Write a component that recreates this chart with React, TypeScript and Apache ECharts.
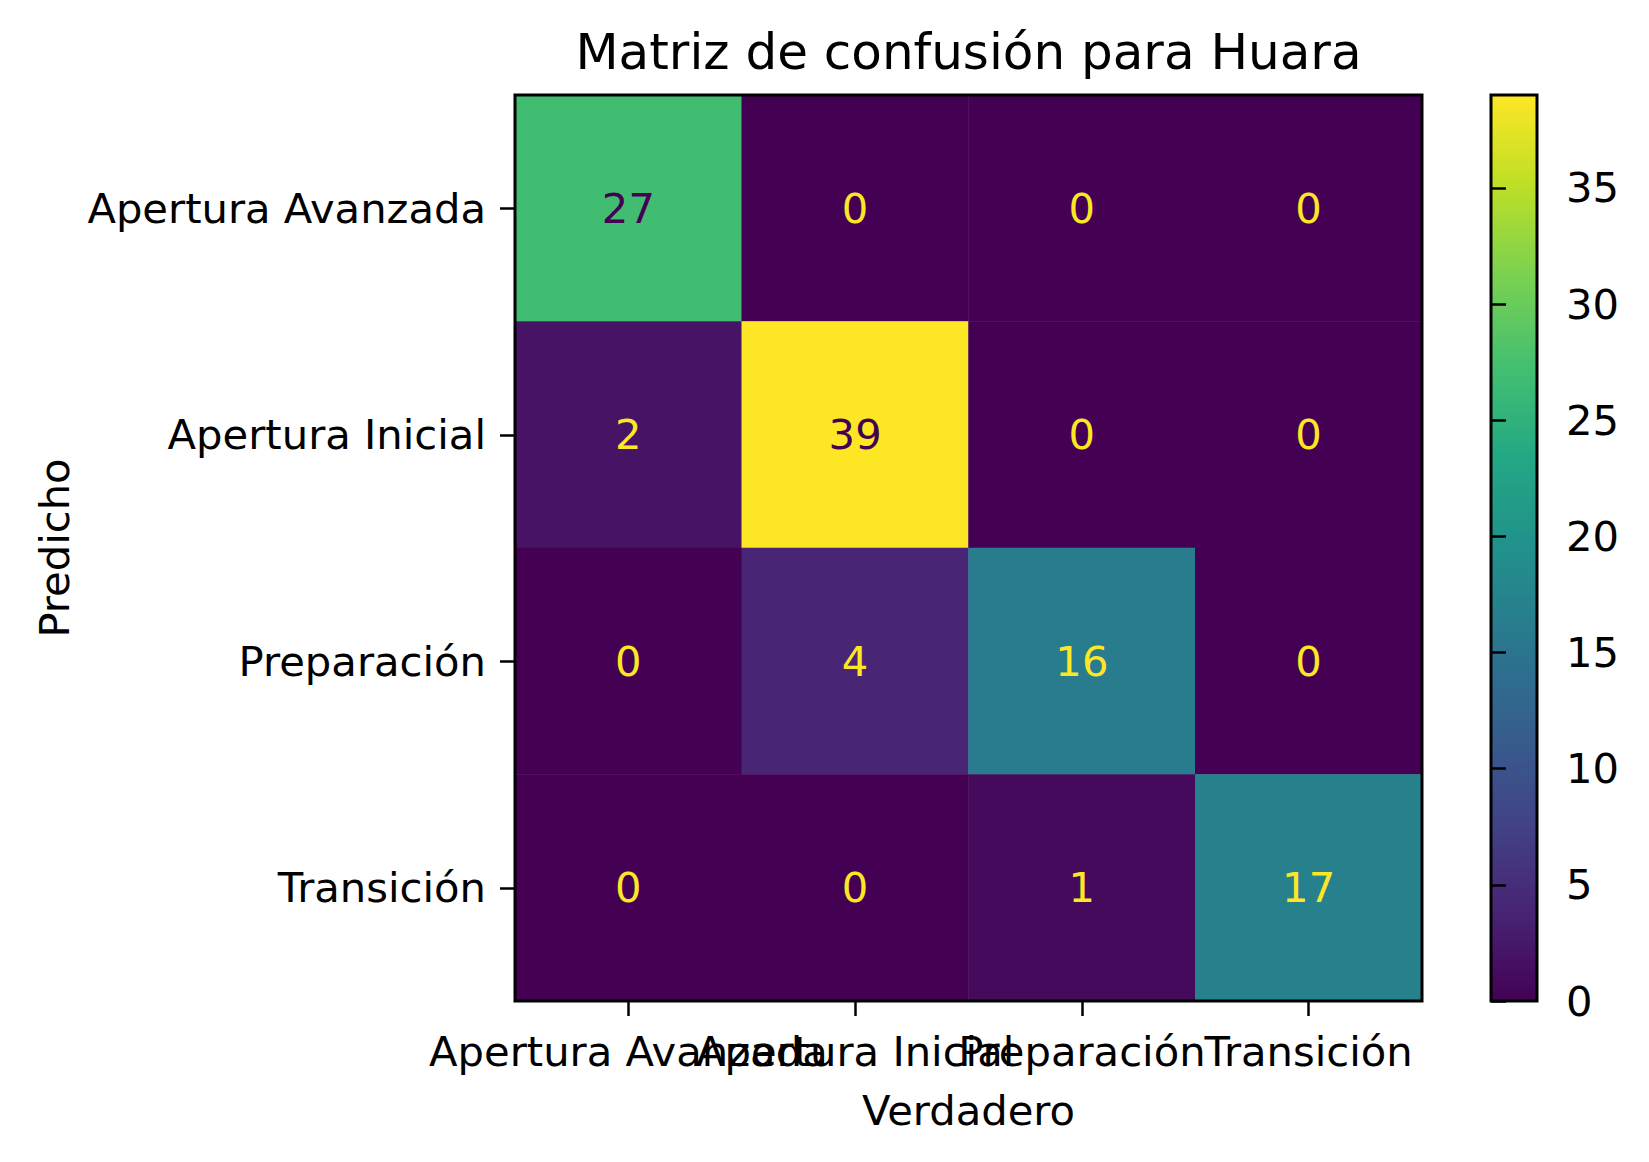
import React, { useEffect, useRef } from "react";
import * as echarts from "echarts";

const trueLabels = ["Apertura Avanzada", "Apertura Inicial", "Preparación", "Transición"];
const predLabels = ["Apertura Avanzada", "Apertura Inicial", "Preparación", "Transición"];
// rows = predicted (top to bottom), cols = true (left to right)
const rowAperturaAvanzada = [27, 0, 0, 0];
const rowAperturaInicial = [2, 39, 0, 0];
const rowPreparacion = [0, 4, 16, 0];
const rowTransicion = [0, 0, 1, 17];
const matrixRows = [rowAperturaAvanzada, rowAperturaInicial, rowPreparacion, rowTransicion];
const colorMin = 0;
const colorMax = 39;
const colorbarTicks = [0, 5, 10, 15, 20, 25, 30, 35];

const viridis = [
  "#440154", "#482475", "#414487", "#355f8d", "#2a788e",
  "#21918c", "#22a884", "#44bf70", "#7ad151", "#bddf26", "#fde725",
];

const FONT = "DejaVu Sans";
const FS = 41.7;

export default function App() {
  const ref = useRef<HTMLDivElement>(null);
  useEffect(() => {
    if (!ref.current) return;
    const chart = echarts.init(ref.current, null, { renderer: "svg" });
    const threshold = (colorMin + colorMax) / 2;
    const data: any[] = [];
    matrixRows.forEach((row, r) => {
      row.forEach((v, c) => {
        data.push({
          value: [c, r, v],
          label: { color: v > threshold ? viridis[0] : viridis[viridis.length - 1] },
        });
      });
    });
    const plot = { left: 515, top: 95, width: 907, height: 906 };
    const cbar = { left: 1491, top: 95, width: 46, height: 906 };
    chart.setOption({
      animation: false,
      backgroundColor: "#ffffff",
      textStyle: { fontFamily: FONT },
      title: {
        text: "Matriz de confusión para Huara",
        left: plot.left + plot.width / 2,
        textAlign: "center",
        top: 27,
        padding: 0,
        textStyle: { fontFamily: FONT, fontSize: 50, fontWeight: "normal", color: "#000" },
      },
      grid: [
        { ...plot, show: true, borderColor: "#000", borderWidth: 3, backgroundColor: "transparent", z: 10 },
        { ...cbar, show: true, borderColor: "#000", borderWidth: 3, backgroundColor: "transparent", z: 10 },
      ],
      xAxis: [
        {
          gridIndex: 0,
          type: "category",
          data: trueLabels,
          position: "bottom",
          name: "Verdadero",
          nameLocation: "middle",
          nameGap: 88,
          nameTextStyle: { fontFamily: FONT, fontSize: FS, color: "#000" },
          axisLine: { show: false },
          axisTick: { show: true, alignWithLabel: true, length: 15, lineStyle: { color: "#000", width: 2.5 } },
          axisLabel: { interval: 0, fontFamily: FONT, fontSize: FS, color: "#000", margin: 29, hideOverlap: false },
          splitLine: { show: false },
          z: 10,
        },
        {
          gridIndex: 1,
          type: "value",
          min: 0,
          max: 1,
          show: false,
        },
      ],
      yAxis: [
        {
          gridIndex: 0,
          type: "category",
          data: predLabels,
          inverse: true,
          name: "Predicho",
          nameLocation: "middle",
          nameGap: 440,
          nameTextStyle: { fontFamily: FONT, fontSize: FS, color: "#000" },
          axisLine: { show: false },
          axisTick: { show: true, alignWithLabel: true, length: 15, lineStyle: { color: "#000", width: 2.5 } },
          axisLabel: { interval: 0, fontFamily: FONT, fontSize: FS, color: "#000", margin: 29 },
          splitLine: { show: false },
          z: 10,
        },
        {
          gridIndex: 1,
          type: "value",
          min: colorMin,
          max: colorMax,
          position: "right",
          axisLine: { show: false },
          axisTick: { show: true, length: 15, customValues: colorbarTicks, lineStyle: { color: "#000", width: 2.5 } },
          axisLabel: { customValues: colorbarTicks, fontFamily: FONT, fontSize: FS, color: "#000", margin: 29 },
          splitLine: { show: false },
          z: 10,
        },
      ],
      visualMap: {
        type: "continuous",
        min: colorMin,
        max: colorMax,
        calculable: false,
        orient: "vertical",
        left: cbar.left,
        top: cbar.top,
        itemWidth: cbar.width,
        itemHeight: cbar.height,
        padding: 0,
        text: null,
        hoverLink: false,
        seriesIndex: 0,
        inRange: { color: viridis },
        z: 1,
      },
      series: [
        {
          type: "heatmap",
          xAxisIndex: 0,
          yAxisIndex: 0,
          data,
          itemStyle: { borderWidth: 0 },
          label: { show: true, fontFamily: FONT, fontSize: FS },
          emphasis: { disabled: true },
        },
      ],
    });
    return () => chart.dispose();
  }, []);
  return (
    <div
      ref={ref}
      style={{ position: "fixed", left: 0, top: 0, width: 1649, height: 1162 }}
    />
  );
}
